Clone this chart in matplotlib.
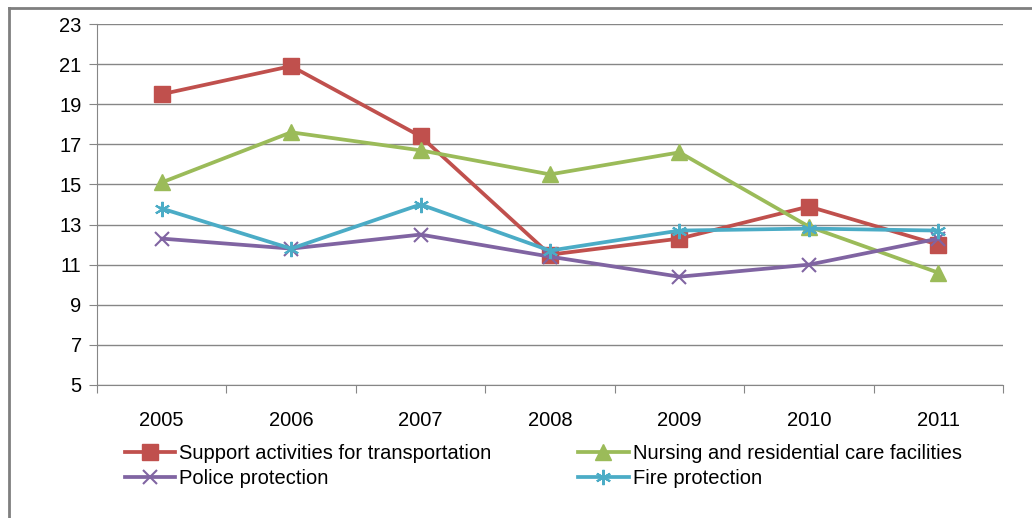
import matplotlib.pyplot as plt
from matplotlib.lines import Line2D

# data
years = ['2005', '2006', '2007', '2008', '2009', '2010', '2011']
transport = [19.5, 20.9, 17.4, 11.5, 12.3, 13.9, 12.0]
nursing = [15.1, 17.6, 16.7, 15.5, 16.6, 12.9, 10.6]
police = [12.3, 11.8, 12.5, 11.4, 10.4, 11.0, 12.3]
fire = [13.8, 11.8, 14.0, 11.7, 12.7, 12.8, 12.7]
y_ticks = [5, 7, 9, 11, 13, 15, 17, 19, 21, 23]

plt.rcParams['font.family'] = ['Liberation Sans', 'DejaVu Sans']

fig = plt.figure(figsize=(10.32, 5.18), dpi=100)
ax = fig.add_axes([97 / 1032, 1 - 385 / 518, 906 / 1032, 361 / 518])

x = list(range(len(years)))
h1, = ax.plot(x, transport, color='#C0504D', lw=2.7, marker='s', ms=11, label='Support activities for transportation', zorder=3)
h2, = ax.plot(x, nursing, color='#9BBB59', lw=2.7, marker='^', ms=12, label='Nursing and residential care facilities', zorder=3)
h3, = ax.plot(x, police, color='#8064A2', lw=2.7, marker='x', ms=10, mew=1.5, label='Police protection', zorder=3)
h4, = ax.plot(x, fire, color='#4BACC6', lw=2.7, marker=(6, 2, 0), ms=11, mew=1.5, label='Fire protection', zorder=3)

ax.set_xlim(-0.5, len(years) - 0.5)
ax.set_ylim(5, 23)
ax.set_yticks(y_ticks)
ax.yaxis.grid(True, color='#868686', lw=1)
ax.set_axisbelow(True)

# category labels centred, tick marks between categories
ax.set_xticks([i - 0.5 for i in range(len(years) + 1)])
ax.set_xticklabels([])
ax.set_xticks(x, minor=True)
ax.set_xticklabels(years, minor=True)
ax.tick_params(axis='x', which='major', length=6, color='#868686')
ax.tick_params(axis='x', which='minor', length=0, pad=19, labelsize=14.5)
ax.tick_params(axis='y', length=6, color='#868686', labelsize=14.5, pad=5)

for s in ['top', 'right']:
    ax.spines[s].set_visible(False)
for s in ['left', 'bottom']:
    ax.spines[s].set_color('#868686')

# legend filled row by row: transport, nursing / police, fire
fig.legend([h1, h3, h2, h4], [h.get_label() for h in [h1, h3, h2, h4]],
           loc='upper left', bbox_to_anchor=(117 / 1032, 1 - 436 / 518), ncol=2,
           frameon=False, fontsize=14.5, handlelength=2.5, handletextpad=0.2,
           columnspacing=4.3, labelspacing=0.3, borderaxespad=0)

# chart border (left and top)
fig.add_artist(Line2D([9 / 1032, 9 / 1032], [0, 1 - 8 / 518], color='#7f7f7f', lw=2))
fig.add_artist(Line2D([9 / 1032, 1], [1 - 8 / 518, 1 - 8 / 518], color='#7f7f7f', lw=2))

fig.savefig('out.png', dpi=100)
